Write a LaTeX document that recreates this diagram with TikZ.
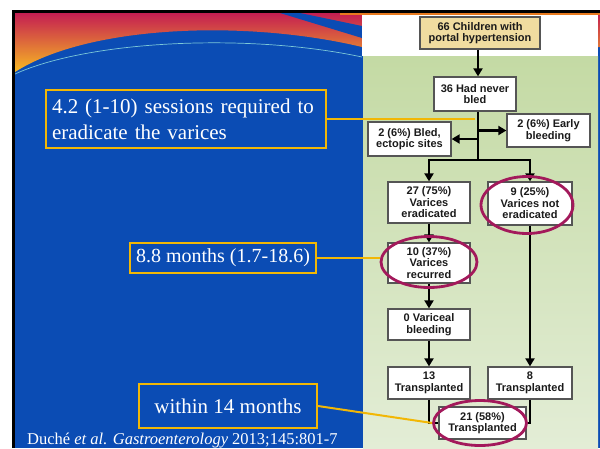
\documentclass[tikz,border=0pt]{standalone}
\usepackage{fontspec}
\setmainfont{Liberation Serif}
\setsansfont{Liberation Sans}
\usetikzlibrary{arrows.meta,shapes.geometric}
\definecolor{slideblue}{HTML}{0B4CB4}
\definecolor{gold}{HTML}{F2B705}
\definecolor{crim}{HTML}{A3195B}
\definecolor{boxedge}{HTML}{555555}
\definecolor{tanfill}{HTML}{F0DCA0}
\definecolor{gtop}{HTML}{C4DAA4}
\definecolor{gbot}{HTML}{E3EDD6}
\definecolor{gradred}{HTML}{C41E52}
\definecolor{gradmid}{HTML}{E8703A}
\definecolor{gradyel}{HTML}{F8BA22}
\definecolor{thinline}{HTML}{7CC8D8}
\definecolor{topor}{HTML}{E87A1E}
\definecolor{fctext}{HTML}{1A1A1A}
\begin{document}
\begin{tikzpicture}[x=1pt,y=-1pt,
  fcbox/.style={draw=boxedge, line width=1.3pt, fill=white, text=fctext,
    font=\sffamily\bfseries\fontsize{11}{11.5}\selectfont, align=center, inner sep=0pt},
  lbox/.style={draw=gold, line width=2pt, text=white, inner sep=0pt},
  gl/.style={draw=gold, line width=2pt},
  ln/.style={draw=black, line width=2.2pt},
  arr/.style={ln, -{Triangle[length=8pt,width=9pt]}},
  crimell/.style={ellipse, draw=crim, line width=2.8pt, inner sep=0pt}
]
\useasboundingbox (0,0) rectangle (600,448);
\fill[white] (0,0) rectangle (600,448);
% slide background
\fill[slideblue] (12,10) rectangle (600,448);
\shade[top color=gradred, middle color=gradmid, bottom color=gradyel]
  (15,13) -- (600,13) -- (600,47) -- (362,47) .. controls (250,20) and (90,24) .. (15,72) -- cycle;
\fill[slideblue] (280,13) -- (300,13) -- (362,26) -- (362,38) -- cycle;
\draw[thinline, line width=0.7pt] (15,74) .. controls (90,40) and (250,33) .. (362,57);
\fill[black] (12,10) rectangle (600,13);
\fill[black] (12,10) rectangle (15,448);
% flowchart image
\fill[topor] (340,13) rectangle (600,14.5);
\fill[white] (362,14.5) rectangle (598,56);
\shade[top color=gtop, bottom color=gbot] (363,56) rectangle (598,448);

% flowchart nodes
\node[fcbox, fill=tanfill, minimum width=120, minimum height=32] (n66) at (480,33) {66 Children with\\portal hypertension};
\node[fcbox, minimum width=82, minimum height=34] (n36) at (475,94) {36 Had never\\bled};
\node[fcbox, minimum width=83, minimum height=33] (nEarly) at (548.5,130.5) {2 (6\%) Early\\bleeding};
\node[fcbox, minimum width=83, minimum height=34] (nEct) at (409.5,139) {2 (6\%) Bled,\\ectopic sites};
\node[fcbox, minimum width=82, minimum height=41] (n27) at (429,202.5) {27 (75\%)\\Varices\\eradicated};
\node[fcbox, minimum width=84, minimum height=43] (n9) at (530,203.5) {9 (25\%)\\Varices not\\eradicated};
\node[fcbox, minimum width=82, minimum height=40] (n10) at (429,263) {10 (37\%)\\Varices\\recurred};
\node[fcbox, minimum width=82, minimum height=31] (n0) at (429,324.5) {0 Variceal\\bleeding};
\node[fcbox, minimum width=82, minimum height=32] (n13) at (429,383) {13\\Transplanted};
\node[fcbox, minimum width=84, minimum height=32] (n8) at (530,383) {8\\Transplanted};
\node[fcbox, minimum width=87, minimum height=32] (n21) at (482.5,423) {21 (58\%)\\Transplanted};

% flowchart connectors
\coordinate (tx) at (478,0);
\coordinate (by) at (0,160);
\coordinate (lx) at (429,0);
\coordinate (rx) at (530,0);
\draw[arr] (tx |- n66.south) -- (tx |- n36.north);
\draw[ln] (tx |- n36.south) -- (tx |- by);
\draw[arr] (tx |- nEarly.west) -- (nEarly.west);
\draw[arr] (tx |- nEct.east) -- (nEct.east);
\draw[ln, line cap=rect] (lx |- by) -- (rx |- by);
\draw[arr] (lx |- by) -- (n27.north);
\draw[arr] (rx |- by) -- (n9.north);
\draw[arr] (n27.south) -- (n10.north);
\draw[arr] (n10.south) -- (n0.north);
\draw[arr] (n0.south) -- (n13.north);
\draw[arr] (n9.south) -- (n8.north);
\draw[ln] (n13.south) |- (n21.west);
\draw[ln] (n8.south) |- (n21.east);

% ellipses
\node[crimell, minimum width=92, minimum height=57] (e9) at (527,205) {};
\node[crimell, minimum width=96, minimum height=51] (e10) at (429,262) {};
\node[crimell, minimum width=93, minimum height=45] (e21) at (480,423) {};

% left annotation boxes
\node[lbox, font=\fontsize{21}{26}\selectfont, minimum width=280, minimum height=58, text width=268, align=left] (b1) at (186,119) {4.2 (1-10) sessions required to\\eradicate the varices};
\node[lbox, font=\fontsize{20}{24}\selectfont, minimum width=186, minimum height=30] (b2) at (223,258) {8.8 months (1.7-18.6)};
\node[lbox, font=\fontsize{21}{25}\selectfont, minimum width=178, minimum height=44] (b3) at (228,406) {within 14 months};
\coordinate (t1) at (475,0);
\draw[gl] (b1.east) -- (b1.east -| t1);
\draw[gl] (b2.east) -- (b2.east -| e10.west);
\draw[gl] (b3.east) -- (e21.west);

\node[anchor=base west, text=white, inner sep=0pt, font=\fontsize{16.5}{19}\selectfont] (cite) at (27,444) {Duché \textit{et al.} \textit{Gastroenterology} 2013;145:801-7};
\end{tikzpicture}
\end{document}
